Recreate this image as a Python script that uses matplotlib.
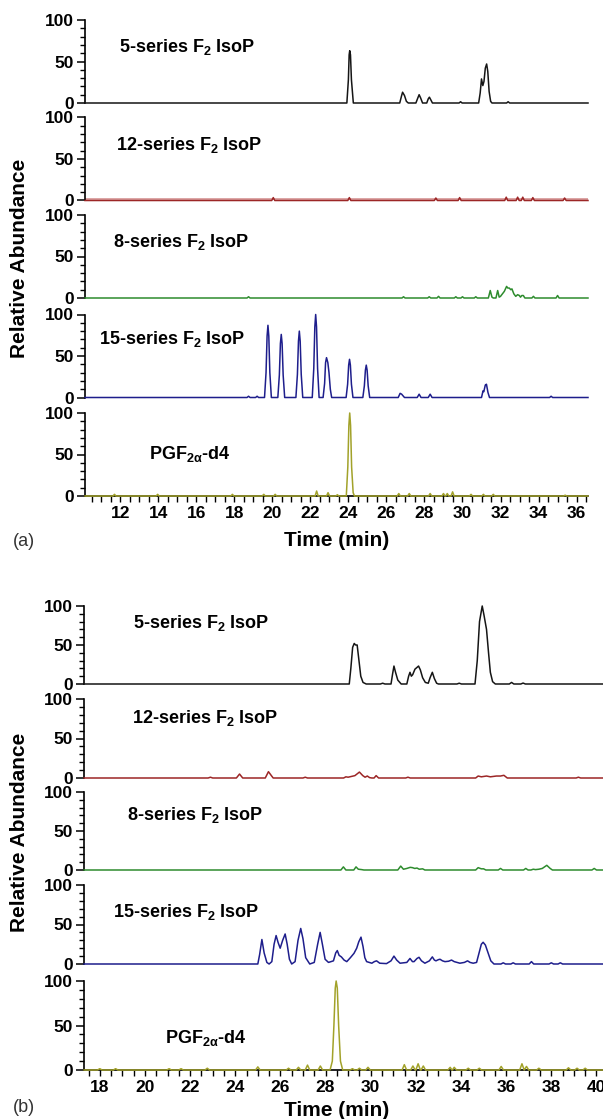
import numpy as np
import matplotlib.pyplot as plt
from matplotlib.ticker import MultipleLocator

plt.rcParams['font.family'] = ['Liberation Sans', 'DejaVu Sans']
plt.rcParams['font.weight'] = 'bold'
plt.rcParams['mathtext.fontset'] = 'custom'
plt.rcParams['mathtext.rm'] = 'Liberation Sans:bold'
plt.rcParams['mathtext.it'] = 'Liberation Sans:bold'
plt.rcParams['mathtext.bf'] = 'Liberation Sans:bold'

# ---------------- data, panel (a) ----------------
a_xlim = (10.15, 36.6)

a5_t = [10.15, 23.92, 24.0, 24.04, 24.07, 24.11, 24.16, 24.26,
        26.7, 26.8, 26.85, 26.95, 27.05, 27.15,
        27.55, 27.65, 27.72, 27.8, 27.9,
        28.12, 28.2, 28.26, 28.33, 28.42,
        30.85, 30.93, 31.0, 31.07, 31.13, 31.2, 31.27, 31.33, 31.4, 31.48, 31.55,
        36.6]
a5_y = [0, 0, 28, 58, 63, 58, 28, 0,
        0, 9, 13, 9, 2, 0,
        0, 6, 10, 6, 0,
        0, 5, 7, 4, 0,
        0, 12, 29, 21, 26, 42, 47, 38, 14, 2, 0,
        0]
a5_bump_t = [29.9, 32.4]
a5_bump_h = [1.5, 1.5]

a12_t = [10.15, 36.6]
a12_y = [0, 0]
a12_bump_t = [20.05, 24.05, 28.6, 29.85, 32.3, 32.9, 33.17, 33.7, 35.37]
a12_bump_h = [3.5, 3.5, 3, 3.5, 4, 4, 4, 3.5, 3]
a12_noise = 2.5

a8_t = [10.15, 31.36, 31.46, 31.55, 31.62, 31.76, 31.85, 31.93, 32.0, 32.1,
        32.2, 32.32, 32.38, 32.46, 32.54, 32.6, 32.7, 32.8, 32.9, 32.99,
        33.05, 33.12, 33.2, 33.28, 36.6]
a8_y = [0, 0, 9, 1, 0, 0, 9, 1, 2, 5,
        8, 14, 12, 12, 10, 11, 5, 2, 4, 3,
        1, 3, 3, 0, 0]
a8_bump_t = [18.75, 26.9, 28.25, 28.74, 29.65, 30.0, 30.7, 33.73, 35.0]
a8_bump_h = [1.5, 1.5, 1.5, 2, 1.5, 1.5, 1.5, 2, 3]

a15_t = [10.15, 19.59, 19.67, 19.725, 19.77, 19.815, 19.87, 19.95,
         20.29, 20.37, 20.425, 20.47, 20.515, 20.57, 20.65,
         21.24, 21.32, 21.375, 21.42, 21.465, 21.52, 21.6,
         22.1, 22.18, 22.235, 22.28, 22.325, 22.38, 22.46,
         22.67, 22.75, 22.8, 22.85, 22.92, 22.98, 23.05, 23.12,
         23.88, 23.96, 24.015, 24.06, 24.105, 24.16, 24.24,
         24.76, 24.84, 24.895, 24.94, 24.985, 25.04, 25.12,
         26.62, 26.72, 26.8, 26.95, 27.62, 27.72, 27.82, 28.2, 28.3, 28.4,
         31.0, 31.08, 31.12, 31.2, 31.26, 31.34, 31.42, 36.6]
a15_y = [0, 0, 30, 74, 87, 74, 30, 0,
         0, 27, 65, 76, 65, 27, 0,
         0, 28, 68, 80, 68, 28, 0,
         0, 35, 85, 100, 85, 35, 0,
         0, 17, 42, 48, 42, 30, 10, 0,
         0, 16, 39, 46, 39, 16, 0,
         0, 14, 33, 39, 33, 14, 0,
         0, 5, 4, 0, 0, 4, 0, 0, 4, 0,
         0, 8, 7, 15, 16, 6, 0, 0]
a15_bump_t = [18.75, 19.2, 34.66]
a15_bump_h = [1.5, 1.5, 1.5]

aP_t = [10.15, 23.89, 23.97, 24.025, 24.07, 24.115, 24.17, 24.25, 24.32, 36.6]
aP_y = [0, 0, 35, 85, 100, 85, 35, 4, 0, 0]
aP_bump_t = [11.7, 13.97, 17.9, 19.55, 20.15, 22.33, 22.93, 23.42, 26.65, 27.2,
             28.3, 29.0, 29.2, 29.48, 30.45, 31.1, 31.62, 35.4]
aP_bump_h = [2, 2, 2, 2, 2, 6, 4, 1.5, 3, 3,
             3, 3, 3, 5, 2, 2, 2, 1]

# ---------------- data, panel (b) ----------------
b_xlim = (17.3, 40.6)

b5_t = [17.3, 29.05, 29.12, 29.2, 29.27, 29.33, 29.4, 29.48, 29.56, 29.66, 29.8,
        30.9, 30.97, 31.03, 31.1, 31.2, 31.35, 31.6, 31.68, 31.74, 31.8, 31.86,
        31.96, 32.12, 32.2, 32.3, 32.42, 32.55, 32.63, 32.73, 32.82, 32.92, 33.0,
        34.62, 34.72, 34.82, 34.94, 35.02, 35.13, 35.22, 35.3, 35.4, 35.52, 40.6]
b5_y = [0, 0, 20, 47, 52, 50, 50, 30, 10, 2, 0,
        0, 13, 23, 15, 5, 0, 0, 10, 15, 10, 12,
        19, 23, 18, 8, 2, 1, 8, 15, 7, 1, 0,
        0, 30, 80, 100, 88, 70, 40, 15, 3, 0, 0]
b5_bump_t = [30.53, 33.92, 36.24, 36.75]
b5_bump_h = [1, 1, 2, 1.2]

b12_t = [17.3, 24.05, 24.19, 24.33, 25.33, 25.47, 25.6, 25.68,
         28.8, 28.9, 29.0, 29.15, 29.3, 29.5, 29.65, 29.75, 29.85, 29.95, 30.05,
         30.15, 30.24, 30.35,
         34.65, 34.76, 34.9, 35.13, 35.3, 35.57, 35.75, 35.9, 36.05, 40.6]
b12_y = [0, 0, 5, 0, 0, 8, 3, 0,
         0, 1.5, 1, 2, 3, 7.5, 3, 1, 2.5, 0.5, 0,
         0, 3, 0,
         0, 2.5, 1.5, 2.5, 1.5, 2.5, 2.5, 3.4, 0, 0]
b12_bump_t = [22.9, 27.1, 31.65, 39.2]
b12_bump_h = [1, 1, 1, 1]

b8_t = [17.3, 28.68, 28.79, 28.9, 29.25, 29.35, 29.45, 29.6, 29.7,
        31.2, 31.33, 31.45, 31.6, 31.75, 31.85, 31.95, 32.05, 32.15, 32.3, 32.4,
        34.65, 34.76, 34.9, 35.0, 35.1,
        37.1, 37.2, 37.3, 37.45, 37.6, 37.8, 37.95, 38.05, 40.6]
b8_y = [0, 0, 4, 0, 0, 4, 1, 0.5, 0,
        0, 5, 1, 2, 3.4, 3, 2, 2.5, 1, 1.5, 0,
        0, 3, 1.5, 1.5, 0,
        0, 1, 0.5, 1, 2, 6, 2, 0, 0]
b8_bump_t = [35.75, 36.87, 39.9]
b8_bump_h = [2, 2, 2]

b15_t = [17.3, 25.0, 25.08, 25.18, 25.28, 25.4, 25.5,
         25.62, 25.72, 25.81, 25.9, 25.99, 26.1, 26.21, 26.3, 26.4, 26.5,
         26.65, 26.78, 26.9, 27.0, 27.12, 27.3,
         27.5, 27.65, 27.76, 27.86, 27.98, 28.13,
         28.35, 28.45, 28.52, 28.6, 28.7, 28.82, 28.94,
         29.1, 29.26, 29.38, 29.47, 29.57, 29.66, 29.74, 29.82,
         30.05, 30.16, 30.26, 30.4, 30.7,
         30.9, 31.03, 31.15, 31.3, 31.6, 31.74, 31.85, 31.92, 32.05, 32.14, 32.25, 32.4,
         32.6, 32.73, 32.82, 32.89, 33.0, 33.07, 33.18, 33.29, 33.45, 33.58, 33.7, 33.95,
         34.15, 34.29, 34.4, 34.54, 34.69, 34.8, 34.9, 34.98, 35.08, 35.2, 35.32, 35.46, 40.6]
b15_y = [0, 0, 12, 31, 14, 2, 0,
         3, 25, 36, 27, 20, 30, 38, 25, 6, 0,
         3, 30, 45, 32, 8, 0,
         2, 25, 40, 25, 6, 2,
         4, 14, 17, 11, 9, 5, 3,
         8, 13.5, 20, 28, 34, 22, 8, 3,
         1, 3, 4, 1, 0.5,
         4, 10, 5, 1, 2, 7, 3, 3, 7, 8.5, 4, 1,
         4, 9, 5, 4, 5.5, 6, 4, 3, 3.5, 5, 3, 1,
         2, 4, 2, 1, 2, 14, 25, 27.5, 24, 14, 4, 0, 0]
b15_bump_t = [35.87, 36.31, 37.12, 38.0, 38.4]
b15_bump_h = [1.5, 1.5, 3, 1.5, 1.5]

bP_t = [17.3, 28.2, 28.3, 28.37, 28.43, 28.47, 28.52, 28.58, 28.66, 28.76, 40.6]
bP_y = [0, 0, 10, 50, 92, 100, 92, 50, 10, 0, 0]
bP_bump_t = [18.0, 18.7, 21.07, 21.6, 22.76, 25.0, 26.36, 26.8, 27.2, 27.77,
             29.19, 29.5, 29.88, 31.49, 31.87, 32.1, 32.33, 33.52, 33.7, 34.32,
             34.81, 35.78, 36.7, 36.9, 37.45, 38.76, 39.14, 39.5]
bP_bump_h = [1.5, 1.5, 1.5, 1.5, 2, 3.5, 2, 3, 5.5, 4.5,
             1.5, 2, 3, 6, 4.5, 7, 4.5, 3, 3, 2,
             2, 4, 7, 4, 2, 2.5, 2, 2]

labels = [r"5-series F$_{2}$ IsoP", r"12-series F$_{2}$ IsoP",
          r"8-series F$_{2}$ IsoP", r"15-series F$_{2}$ IsoP",
          r"PGF$_{2\alpha}$-d4"]

BLACK, RED, GREEN, NAVY, OLIVE = "#151515", "#9c2626", "#2e8c2e", "#1e1e8c", "#a2a22a"
PINK = "#dca6a6"


def trace(t, y, bt, bh, hw):
    """explicit points plus small noise bumps (apex time, height)"""
    tt, yy = list(t), list(y)
    for c, h in zip(bt, bh):
        tt += [c - hw, c, c + hw]
        yy += [0, h, 0]
    o = np.argsort(tt, kind="stable")
    return np.asarray(tt)[o], np.asarray(yy)[o]


W, H = 603, 1119
fig = plt.figure(figsize=(W / 100, H / 100), dpi=100)


def px_axes(left, right, top, bottom):
    return fig.add_axes([left / W, 1 - bottom / H, (right - left) / W, (bottom - top) / H])


def style_axes(ax, xlim, last):
    ax.set_xlim(*xlim)
    ax.set_ylim(0, 100)
    ax.patch.set_alpha(0)
    for s in ("top", "right"):
        ax.spines[s].set_visible(False)
    ax.spines["left"].set_linewidth(1.2)
    ax.yaxis.set_major_locator(MultipleLocator(50))
    ax.yaxis.set_minor_locator(MultipleLocator(10))
    ax.tick_params(axis="y", which="major", length=6, width=1.1, labelsize=12.5, pad=2)
    ax.tick_params(axis="y", which="minor", length=3.5, width=1.0)
    if last:
        ax.spines["bottom"].set_linewidth(1.2)
        ax.xaxis.set_major_locator(MultipleLocator(2))
        ax.xaxis.set_minor_locator(MultipleLocator(0.5))
        ax.tick_params(axis="x", which="both", length=4.5, width=1.0, labelsize=12.5, pad=3)
    else:
        ax.spines["bottom"].set_visible(False)
        ax.set_xticks([])
    for lab in ax.get_xticklabels() + ax.get_yticklabels():
        lab.set_fontweight("bold")


panels = [
    dict(xlim=a_xlim, left=85, right=588,
         rows=[(20, 103), (117.5, 200.5), (215, 298), (314.5, 397.5), (413, 496)],
         traces=[(a5_t, a5_y, a5_bump_t, a5_bump_h), (a12_t, a12_y, a12_bump_t, a12_bump_h),
                 (a8_t, a8_y, a8_bump_t, a8_bump_h), (a15_t, a15_y, a15_bump_t, a15_bump_h),
                 (aP_t, aP_y, aP_bump_t, aP_bump_h)],
         hw=0.08, lab_x=[119, 116, 113, 99, 149], lab_y=[67, 67, 67, 70, 50],
         ylab_y=258, xlab_y=541, tag="(a)", tag_y=541),
    dict(xlim=b_xlim, left=84, right=610,
         rows=[(606, 684), (699, 778), (792, 870), (885, 964), (981, 1070)],
         traces=[(b5_t, b5_y, b5_bump_t, b5_bump_h), (b12_t, b12_y, b12_bump_t, b12_bump_h),
                 (b8_t, b8_y, b8_bump_t, b8_bump_h), (b15_t, b15_y, b15_bump_t, b15_bump_h),
                 (bP_t, bP_y, bP_bump_t, bP_bump_h)],
         hw=0.1, lab_x=[133, 132, 127, 113, 165], lab_y=[78, 76, 70, 66, 36],
         ylab_y=832, xlab_y=1110, tag="(b)", tag_y=1107),
]
colors = [BLACK, RED, GREEN, NAVY, OLIVE]

for p_i, p in enumerate(panels):
    for i, ((top, bot), tr) in enumerate(zip(p["rows"], p["traces"])):
        ax = px_axes(p["left"], p["right"], top, bot)
        last = i == 4
        style_axes(ax, p["xlim"], last)
        t, y = trace(*tr, hw=p["hw"])
        if p_i == 0 and i == 1:
            ax.fill_between(p["xlim"], 0, a12_noise, color=PINK, lw=0, clip_on=False)
        ax.plot(t, y, color=colors[i], lw=1.1, clip_on=False, zorder=3,
                solid_joinstyle="round")
        xl = p["xlim"]
        lx = xl[0] + (p["lab_x"][i] - p["left"]) / (p["right"] - p["left"]) * (xl[1] - xl[0])
        ax.text(lx, p["lab_y"][i], labels[i], fontsize=13, fontweight="bold",
                ha="left", va="center")
    fig.text(20 / W, 1 - p["ylab_y"] / H, "Relative Abundance", rotation=90,
             ha="center", va="center", fontsize=15, fontweight="bold")
    fig.text(337 / W, 1 - p["xlab_y"] / H, "Time (min)", ha="center", va="center",
             fontsize=15, fontweight="bold")
    fig.text(13 / W, 1 - p["tag_y"] / H, p["tag"], ha="left", va="center",
             fontsize=13, fontweight="normal", color="#333333")

fig.savefig("out.png", dpi=100)
